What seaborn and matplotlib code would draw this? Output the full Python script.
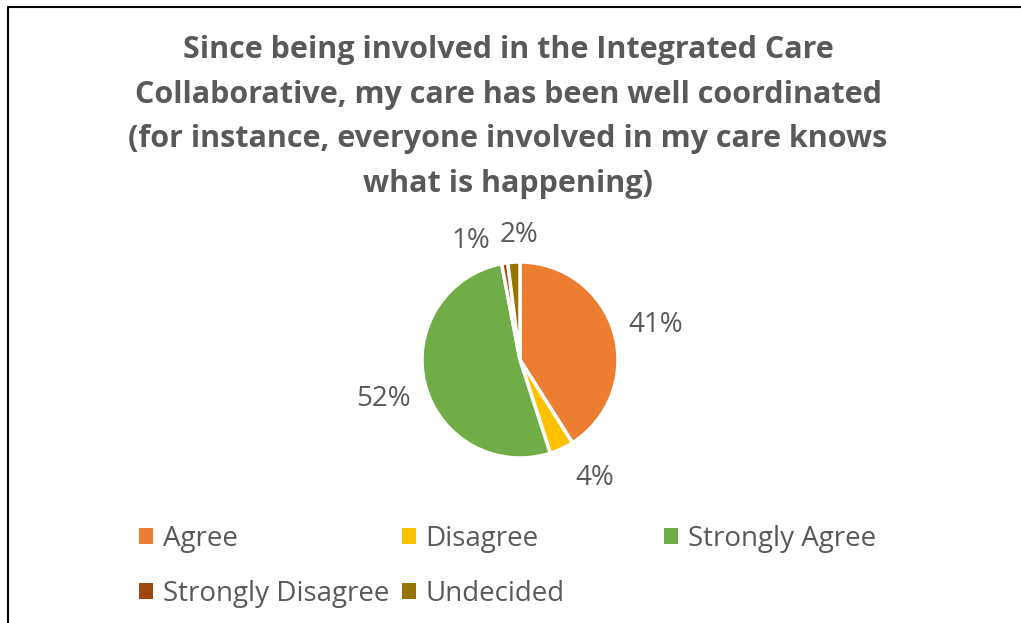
import matplotlib
matplotlib.use("Agg")
import matplotlib.pyplot as plt
from matplotlib.lines import Line2D
from matplotlib.patches import Patch
import numpy as np
import seaborn as sns

# Survey responses (share of respondents, %)
categories = ["Agree", "Disagree", "Strongly Agree", "Strongly Disagree", "Undecided"]
shares = [41, 4, 52, 1, 2]
pct_labels = ["41%", "4%", "52%", "1%", "2%"]
colors = ["#ED7D31", "#FFC000", "#70AD47", "#9E480E", "#997300"]

title = ("Since being involved in the Integrated Care\n"
         "Collaborative, my care has been well coordinated\n"
         "(for instance, everyone involved in my care knows\n"
         "what is happening)")

sns.set_theme(style="white")
plt.rcParams["font.family"] = ["Open Sans", "DejaVu Sans"]
text_color = "#595959"

W, H = 1021, 623
fig = plt.figure(figsize=(W / 100, H / 100), dpi=100)
fig.patch.set_facecolor("white")

# Pie axes: centre at (520, 360) px, radius ~98 px
cx, cy, R = 520, 360, 98
half = 1.5 * R
ax = fig.add_axes([(cx - half) / W, (H - cy - half) / H, 2 * half / W, 2 * half / H])
wedges, _ = ax.pie(shares, colors=colors, startangle=90, counterclock=False,
                   wedgeprops=dict(edgecolor="white", linewidth=2.5))
ax.set_xlim(-1.5, 1.5)
ax.set_ylim(-1.5, 1.5)
ax.set_aspect("equal")
ax.axis("off")

# Percentage labels outside each wedge: (radius, angular nudge in degrees)
label_place = [(1.43, -1.8), (1.43, 7.2), (1.45, 1.5), (1.31, 13.4), (1.28, -3.2)]
for w, lab, (d, nudge) in zip(wedges, pct_labels, label_place):
    ang = np.deg2rad((w.theta1 + w.theta2) / 2 + nudge)
    ax.text(d * np.cos(ang), d * np.sin(ang), lab, ha="center", va="center",
            fontsize=20, color=text_color, clip_on=False)

fig.text(508 / W, 1 - 117 / H, title, ha="center", va="center",
         fontsize=22, fontweight="bold", color=text_color, linespacing=1.63)

# Legend in three columns
cols = [[0, 3], [1, 4], [2]]
col_x = [139, 402, 664]
for idx, x in zip(cols, col_x):
    handles = [Patch(facecolor=colors[i], edgecolor="none") for i in idx]
    fig.legend(handles, [categories[i] for i in idx], loc="upper left",
               bbox_to_anchor=(x / W, 1 - 525 / H), frameon=False,
               fontsize=20, labelcolor=text_color, handlelength=0.5,
               handleheight=0.5, handletextpad=0.35, labelspacing=0.98,
               borderpad=0, borderaxespad=0)

# Frame lines on the left and top
fig.add_artist(Line2D([8 / W, 8 / W], [0, 1 - 7 / H], transform=fig.transFigure,
                      color="black", linewidth=1.5))
fig.add_artist(Line2D([8 / W, 1], [1 - 7 / H, 1 - 7 / H], transform=fig.transFigure,
                      color="black", linewidth=1.5))

fig.savefig("out.png", dpi=100)
